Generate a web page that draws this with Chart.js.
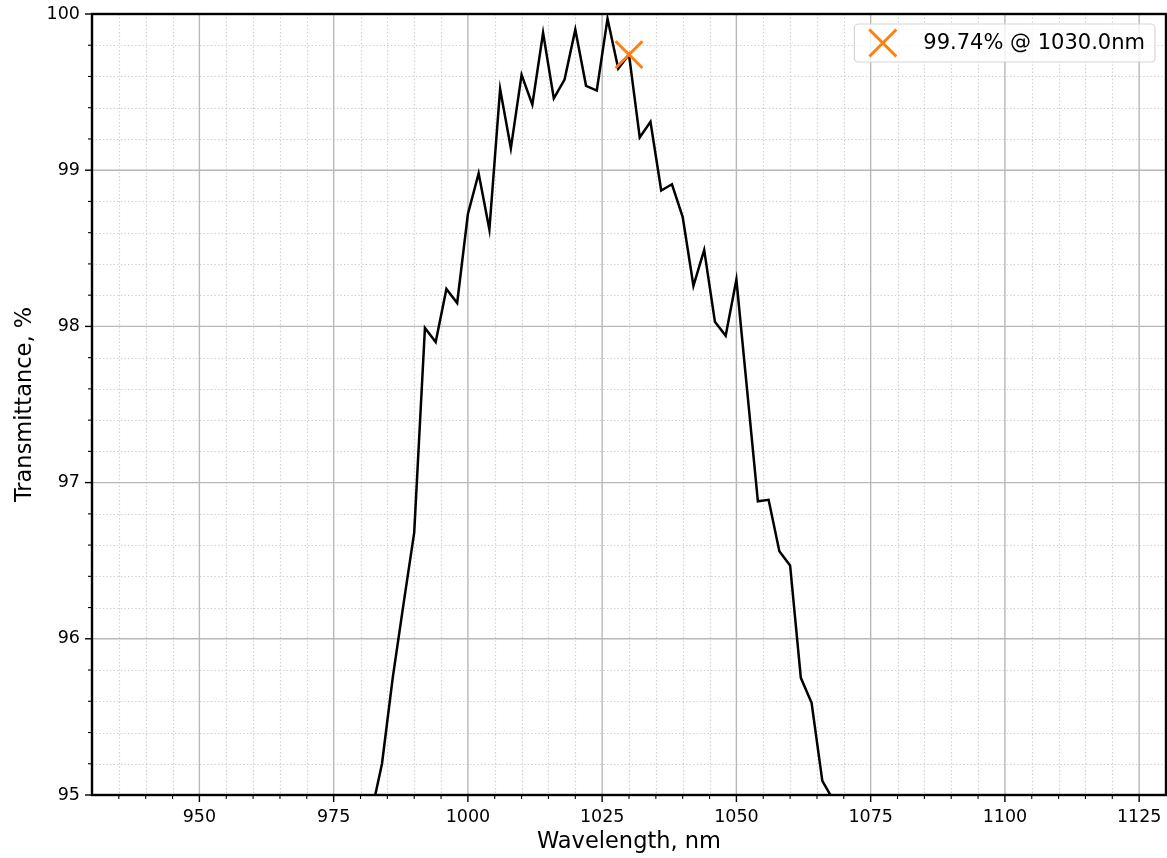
<!DOCTYPE html>
<html>
<head>
<meta charset="utf-8">
<script src="https://cdn.jsdelivr.net/npm/chart.js@4/dist/chart.umd.min.js"></script>
<style>
  html, body { margin: 0; padding: 0; background: #fff; }
  #wrap { width: 1167px; height: 858px; position: relative; }
</style>
</head>
<body>
<div id="wrap"><canvas id="c" width="1167" height="858"></canvas></div>
<script>
// ---- data ----
const wavelengths = [982, 984, 986, 988, 990, 992, 994, 996, 998, 1000,
  1002, 1004, 1006, 1008, 1010, 1012, 1014, 1016, 1018, 1020,
  1022, 1024, 1026, 1028, 1030, 1032, 1034, 1036, 1038, 1040,
  1042, 1044, 1046, 1048, 1050, 1052, 1054, 1056, 1058, 1060,
  1062, 1064, 1066, 1068];
const transmittance = [94.88, 95.20, 95.75, 96.22, 96.68, 97.99, 97.90, 98.24, 98.15, 98.72,
  98.98, 98.62, 99.52, 99.14, 99.61, 99.42, 99.88, 99.46, 99.58, 99.90,
  99.54, 99.51, 99.97, 99.65, 99.74, 99.21, 99.31, 98.87, 98.91, 98.70,
  98.26, 98.49, 98.03, 97.94, 98.30, 97.59, 96.88, 96.89, 96.56, 96.47,
  95.75, 95.59, 95.09, 94.97];
const markerWavelength = 1030.0;
const markerValue = 99.74;
const markerLabel = "99.74% @ 1030.0nm";
const xTicks = [950, 975, 1000, 1025, 1050, 1075, 1100, 1125];
const yTicks = [95, 96, 97, 98, 99, 100];
const xRange = [930, 1130];
const yRange = [95, 100];
const xMinorStep = 5;
const yMinorStep = 0.2;

const FONT = "'DejaVu Sans', 'Liberation Sans', sans-serif";

const gridPlugin = {
  id: 'mplGrid',
  beforeDatasetsDraw(chart) {
    const {ctx, chartArea: a, scales: {x, y}} = chart;
    ctx.save();
    // minor dotted grid
    ctx.strokeStyle = '#cfcfcf';
    ctx.lineWidth = 1.2;
    ctx.setLineDash([1.4, 2.2]);
    for (let v = xRange[0] + xMinorStep; v < xRange[1]; v += xMinorStep) {
      if (Math.abs(v % 25) < 1e-6) continue;
      const px = Math.round(x.getPixelForValue(v)) + 0.5;
      ctx.beginPath(); ctx.moveTo(px, a.top); ctx.lineTo(px, a.bottom); ctx.stroke();
    }
    for (let i = 1; i < 25; i++) {
      if (i % 5 === 0) continue;
      const v = yRange[0] + i * yMinorStep;
      const py = Math.round(y.getPixelForValue(v)) + 0.5;
      ctx.beginPath(); ctx.moveTo(a.left, py); ctx.lineTo(a.right, py); ctx.stroke();
    }
    ctx.setLineDash([]);
    // major grid
    ctx.strokeStyle = '#b8b8b8';
    ctx.lineWidth = 1.4;
    xTicks.forEach(v => {
      const px = x.getPixelForValue(v);
      ctx.beginPath(); ctx.moveTo(px, a.top); ctx.lineTo(px, a.bottom); ctx.stroke();
    });
    yTicks.forEach(v => {
      const py = y.getPixelForValue(v);
      ctx.beginPath(); ctx.moveTo(a.left, py); ctx.lineTo(a.right, py); ctx.stroke();
    });
    ctx.restore();
  },
  afterDatasetsDraw(chart) {
    const {ctx, chartArea: a, scales: {x, y}} = chart;
    ctx.save();
    // spines
    ctx.strokeStyle = '#000';
    ctx.lineWidth = 2.4;
    ctx.strokeRect(a.left, a.top, a.right - a.left, a.bottom - a.top);
    // major ticks
    ctx.lineWidth = 1.4;
    xTicks.forEach(v => {
      const px = x.getPixelForValue(v);
      ctx.beginPath(); ctx.moveTo(px, a.bottom); ctx.lineTo(px, a.bottom + 7); ctx.stroke();
    });
    yTicks.forEach(v => {
      const py = y.getPixelForValue(v);
      ctx.beginPath(); ctx.moveTo(a.left, py); ctx.lineTo(a.left - 7, py); ctx.stroke();
    });
    // minor ticks
    ctx.lineWidth = 1.1;
    for (let v = xRange[0] + xMinorStep; v < xRange[1]; v += xMinorStep) {
      if (Math.abs(v % 25) < 1e-6) continue;
      const px = x.getPixelForValue(v);
      ctx.beginPath(); ctx.moveTo(px, a.bottom); ctx.lineTo(px, a.bottom + 4); ctx.stroke();
    }
    for (let i = 1; i < 25; i++) {
      if (i % 5 === 0) continue;
      const py = y.getPixelForValue(yRange[0] + i * yMinorStep);
      ctx.beginPath(); ctx.moveTo(a.left, py); ctx.lineTo(a.left - 4, py); ctx.stroke();
    }
    ctx.restore();
  },
  afterDraw(chart) {
    // legend box (matplotlib style)
    const {ctx, chartArea: a} = chart;
    const ds = chart.data.datasets[1];
    ctx.save();
    ctx.font = '21px ' + FONT;
    const tw = ctx.measureText(ds.label).width;
    const h = 38;
    const w = 15 + 27 + 27 + tw + 10;
    const bx = a.right - 11 - w;
    const by = a.top + 10;
    const r = 4;
    ctx.beginPath();
    ctx.moveTo(bx + r, by);
    ctx.arcTo(bx + w, by, bx + w, by + h, r);
    ctx.arcTo(bx + w, by + h, bx, by + h, r);
    ctx.arcTo(bx, by + h, bx, by, r);
    ctx.arcTo(bx, by, bx + w, by, r);
    ctx.closePath();
    ctx.fillStyle = 'rgba(255,255,255,0.8)';
    ctx.fill();
    ctx.strokeStyle = '#d6d6d6';
    ctx.lineWidth = 1.2;
    ctx.stroke();
    // marker
    const mx = bx + 15 + 13.5, my = by + h / 2;
    ctx.strokeStyle = ds.borderColor;
    ctx.lineWidth = ds.borderWidth;
    ctx.beginPath();
    ctx.moveTo(mx - 13.5, my - 13.5); ctx.lineTo(mx + 13.5, my + 13.5);
    ctx.moveTo(mx + 13.5, my - 13.5); ctx.lineTo(mx - 13.5, my + 13.5);
    ctx.stroke();
    ctx.fillStyle = '#000';
    ctx.textBaseline = 'middle';
    ctx.textAlign = 'left';
    ctx.fillText(ds.label, bx + 15 + 27 + 27, my + 1);
    ctx.restore();
  }
};

new Chart(document.getElementById('c'), {
  type: 'line',
  data: {
    datasets: [
      {
        label: 'Transmittance',
        data: wavelengths.map((w, i) => ({x: w, y: transmittance[i]})),
        borderColor: '#000',
        borderWidth: 2.5,
        pointRadius: 0,
        tension: 0,
        fill: false,
        clip: 0,
        order: 2
      },
      {
        type: 'scatter',
        label: markerLabel,
        data: [{x: markerWavelength, y: markerValue}],
        pointStyle: 'crossRot',
        pointRadius: 19,
        pointHoverRadius: 19,
        borderColor: '#ff7f0e',
        backgroundColor: '#ff7f0e',
        borderWidth: 2.9,
        showLine: false,
        clip: false,
        order: 1
      }
    ]
  },
  options: {
    responsive: false,
    animation: false,
    events: [],
    layout: { autoPadding: false, padding: { top: 14, right: 1, left: 0, bottom: 0 } },
    plugins: {
      legend: { display: false },
      tooltip: { enabled: false },
      title: { display: false }
    },
    scales: {
      x: {
        type: 'linear',
        min: xRange[0],
        max: xRange[1],
        afterBuildTicks: s => { s.ticks = xTicks.map(v => ({value: v})); },
        afterFit: s => { s.height = 63; s.paddingLeft = 0; s.paddingRight = 0; },
        grid: { display: false, drawOnChartArea: false, drawTicks: false },
        border: { display: false },
        ticks: {
          color: '#000',
          padding: 12,
          maxRotation: 0,
          autoSkip: false,
          font: { family: FONT, size: 17.5 },
          callback: v => String(v)
        },
        title: {
          display: true,
          text: 'Wavelength, nm',
          color: '#000',
          font: { family: FONT, size: 22.5 },
          padding: { top: 0, bottom: 2 }
        }
      },
      y: {
        type: 'linear',
        min: yRange[0],
        max: yRange[1],
        afterBuildTicks: s => { s.ticks = yTicks.map(v => ({value: v})); },
        afterFit: s => { s.width = 92; s.paddingTop = 0; s.paddingBottom = 0; },
        grid: { display: false, drawOnChartArea: false, drawTicks: false },
        border: { display: false },
        ticks: {
          color: '#000',
          padding: 12,
          autoSkip: false,
          font: { family: FONT, size: 17.5 },
          callback: v => String(v)
        },
        title: {
          display: true,
          text: 'Transmittance, %',
          color: '#000',
          font: { family: FONT, size: 22.5 },
          padding: { top: 12, bottom: 0 }
        }
      }
    }
  },
  plugins: [gridPlugin]
});
</script>
</body>
</html>
